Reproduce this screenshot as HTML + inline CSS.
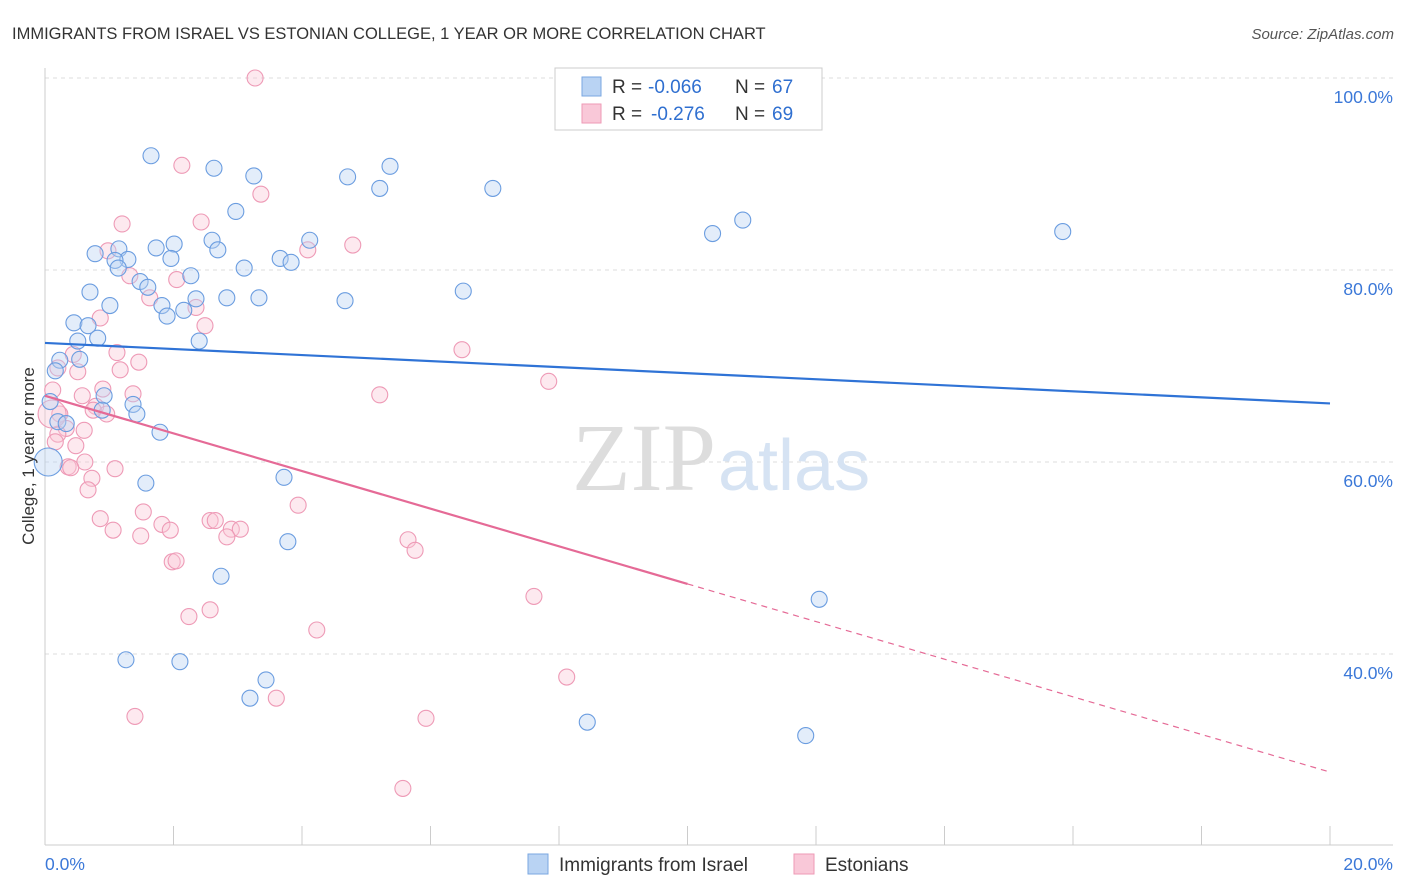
<!DOCTYPE html>
<html><head><meta charset="utf-8">
<style>
body{margin:0;background:#fff;font-family:"Liberation Sans",sans-serif;}
svg{display:block}
</style></head>
<body>
<svg id="chart" width="1406" height="892">
<text x="12" y="39" font-size="16.5" fill="#333">IMMIGRANTS FROM ISRAEL VS ESTONIAN COLLEGE, 1 YEAR OR MORE CORRELATION CHART</text>
<text x="1394" y="39" font-size="15" fill="#555" font-style="italic" text-anchor="end">Source: ZipAtlas.com</text>
<g id="grid"></g>
<text x="716" y="490" font-size="96" fill="#ddd" text-anchor="end" font-family="Liberation Serif">ZIP</text>
<text x="718" y="490" font-size="72" fill="#d6e3f3">atlas</text>
<g id="points"></g>
<g id="lines"></g>
<text transform="translate(34,456) rotate(-90)" font-size="17" fill="#333" text-anchor="middle">College, 1 year or more</text>
<g>
<rect x="555" y="68" width="267" height="62" fill="#fff" stroke="#ccc"/>
<rect x="582" y="77" width="19" height="19" fill="#b9d3f3" stroke="#7aa7e0"/>
<rect x="582" y="104" width="19" height="19" fill="#f9c8d8" stroke="#ee9ab6"/>
<text y="93" font-size="19" fill="#333"><tspan x="612">R =</tspan><tspan x="648" fill="#2f6fd0">-0.066</tspan><tspan x="735">N =</tspan><tspan x="772" fill="#2f6fd0">67</tspan></text>
<text y="120" font-size="19" fill="#333"><tspan x="612">R =</tspan><tspan x="651" fill="#2f6fd0">-0.276</tspan><tspan x="735">N =</tspan><tspan x="772" fill="#2f6fd0">69</tspan></text>
</g>
<g>
<rect x="528" y="854" width="20" height="20" fill="#b9d3f3" stroke="#7aa7e0"/>
<text x="559" y="871" font-size="19" fill="#333">Immigrants from Israel</text>
<rect x="794" y="854" width="20" height="20" fill="#f9c8d8" stroke="#ee9ab6"/>
<text x="825" y="871" font-size="19" fill="#333">Estonians</text>
</g>
</svg>
<script>
const xTicks=[0,20];
const yTicks=[40,60,80,100];
const blueX=[1.65,2.63,3.25,4.71,5.37,5.21,6.97,2.97,10.86,10.39,15.84,1.73,2.01,2.60,2.69,4.12,1.15,1.29,1.96,0.78,1.09,1.14,3.66,3.83,3.10,1.48,1.60,2.27,0.70,6.51,1.01,1.82,1.90,2.16,2.35,2.83,3.33,4.67,0.45,0.67,0.82,0.51,2.40,0.23,0.54,0.16,0.08,0.92,0.89,1.37,1.43,0.20,0.33,1.79,1.57,3.72,3.78,2.74,12.05,1.26,2.10,3.44,3.19,8.44,11.84,0.05];
const blueY=[91.9,90.6,89.8,89.7,90.8,88.5,88.5,86.1,85.2,83.8,84.0,82.3,82.7,83.1,82.1,83.1,82.2,81.1,81.2,81.7,81.0,80.2,81.2,80.8,80.2,78.8,78.2,79.4,77.7,77.8,76.3,76.3,75.2,75.8,77.0,77.1,77.1,76.8,74.5,74.2,72.9,72.6,72.6,70.6,70.7,69.5,66.3,66.9,65.4,66.0,65.0,64.2,64.0,63.1,57.8,58.4,51.7,48.1,45.7,39.4,39.2,37.3,35.4,32.9,31.5,60.0];
const pinkX=[3.27,2.13,3.36,1.20,2.43,4.09,4.79,0.98,1.32,2.05,1.63,2.35,0.86,2.49,6.49,1.12,1.46,0.44,0.20,1.17,0.51,7.84,5.21,0.12,0.90,1.37,0.58,0.23,0.79,0.96,0.75,0.33,0.61,0.20,0.16,0.48,0.62,0.36,1.09,0.40,0.73,0.67,3.94,0.86,1.53,1.06,1.82,1.95,2.57,2.65,2.90,3.04,2.83,1.49,5.65,5.76,1.98,2.04,7.61,2.57,2.24,4.23,8.12,1.40,3.60,5.93,5.57,0.11];
const pinkY=[100.0,90.9,87.9,84.8,85.0,82.1,82.6,82.0,79.4,79.0,77.1,76.1,75.0,74.2,71.7,71.4,70.4,71.2,69.8,69.6,69.4,68.4,67.0,67.5,67.6,67.1,66.9,65.0,65.8,65.0,65.4,63.5,63.3,62.9,62.1,61.7,60.0,59.5,59.3,59.4,58.3,57.1,55.5,54.1,54.8,52.9,53.5,52.9,53.9,53.9,53.0,53.0,52.2,52.3,51.9,50.8,49.6,49.7,46.0,44.6,43.9,42.5,37.6,33.5,35.4,33.3,26.0,65.0];
const blueLine=[72.4,66.1];
const pinkLine=[66.9,27.7];
const pinkSolidEnd=10;
const X=v=>45+v*64.25, Y=v=>654-(v-40)*9.6;
const NS="http://www.w3.org/2000/svg";
function mk(t,a,p){const e=document.createElementNS(NS,t);for(const k in a)e.setAttribute(k,a[k]);p.appendChild(e);return e;}
const grid=document.getElementById('grid');
yTicks.forEach(v=>{
 const l=mk('line',{x1:45,x2:1393,y1:Y(v),y2:Y(v),stroke:'#ddd','stroke-dasharray':'4,4'},grid);
 
 
 const t=mk('text',{x:1393,y:Y(v)+25,'font-size':17.5,fill:'#3b78d8','text-anchor':'end'},grid);
 t.textContent=v.toFixed(1)+'%';
 
 
});
mk('line',{x1:45,x2:45,y1:68,y2:845,stroke:'#ccc'},grid);
mk('line',{x1:45,x2:1393,y1:845,y2:845,stroke:'#ccc'},grid);
for(let i=0;i<=10;i++){mk('line',{x1:X(i*2),x2:X(i*2),y1:826,y2:845,stroke:'#ccc'},grid);}
xTicks.forEach((v,i)=>{
 const t=mk('text',{x:i?1393:45,y:870,'font-size':17.5,fill:'#3b78d8','text-anchor':i?'end':'start'},grid);
 t.textContent=v.toFixed(1)+'%';
 
 
});
const pts=document.getElementById('points');
function series(xs,ys,fill,stroke,name){
 xs.forEach((x,i)=>{
  const big=(i===xs.length-1&&x<0.2);
  const c=mk('circle',{cx:X(x),cy:Y(ys[i]),r:big?14:8,fill:fill,'fill-opacity':0.4,stroke:stroke,'stroke-width':1.1},pts);
  
  
 });
}
series(pinkX,pinkY,'#f9c8d8','#ee9ab6','estonians-point');
series(blueX,blueY,'#b9d3f3','#6b9de0','israel-point');
const lines=document.getElementById('lines');
const bl=mk('line',{x1:X(0),y1:Y(blueLine[0]),x2:X(20),y2:Y(blueLine[1]),stroke:'#2f73d6','stroke-width':2.2},lines);


const pm=pinkLine[0]+(pinkLine[1]-pinkLine[0])*pinkSolidEnd/20;
const pl=mk('line',{x1:X(0),y1:Y(pinkLine[0]),x2:X(pinkSolidEnd),y2:Y(pm),stroke:'#e56a96','stroke-width':2.2},lines);


const pd=mk('line',{x1:X(pinkSolidEnd),y1:Y(pm),x2:X(20),y2:Y(pinkLine[1]),stroke:'#e56a96','stroke-width':1.2,'stroke-dasharray':'6,5'},lines);


</script>
</body></html>
